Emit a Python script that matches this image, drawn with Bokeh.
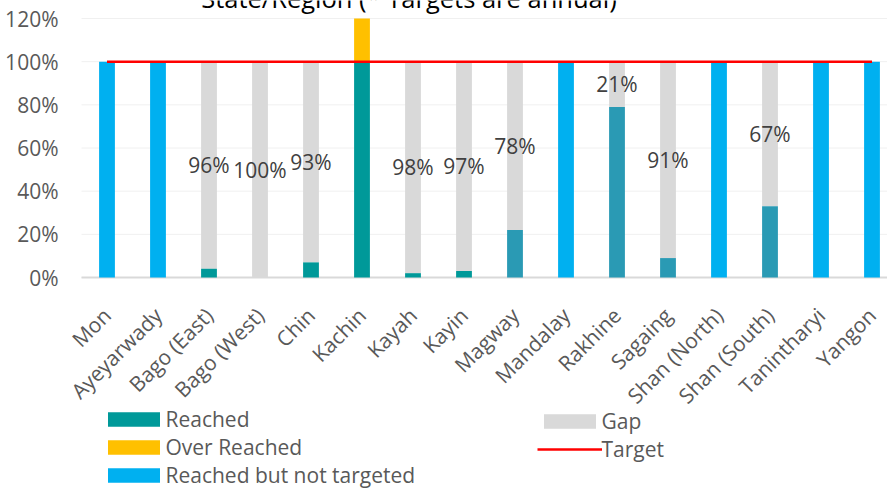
import math
from bokeh.plotting import figure
from bokeh.models import ColumnDataSource, Legend, LegendItem, Range1d
from bokeh.core.properties import value
from bokeh.embed import file_html
from bokeh.resources import INLINE

# ---------------- data ----------------
categories = ["Mon", "Ayeyarwady", "Bago (East)", "Bago (West)", "Chin", "Kachin",
              "Kayah", "Kayin", "Magway", "Mandalay", "Rakhine", "Sagaing",
              "Shan (North)", "Shan (South)", "Tanintharyi", "Yangon"]
reached = [0, 0, 4, 0, 7, 100, 2, 3, 22, 0, 79, 9, 0, 33, 0, 0]
over_reached = [0, 0, 0, 0, 0, 20, 0, 0, 0, 0, 0, 0, 0, 0, 0, 0]
reached_not_targeted = [100, 100, 0, 0, 0, 0, 0, 0, 0, 100, 0, 0, 100, 0, 100, 100]
gap = [0, 0, 96, 100, 93, 0, 98, 97, 78, 0, 21, 91, 0, 67, 0, 0]
target = [100, 100, 100, 100, 100, 100, 100, 100, 100, 100, 100, 100, 100, 100, 100, 100]
y_ticks = [0, 20, 40, 60, 80, 100, 120]
y_tick_labels = ["0%", "20%", "40%", "60%", "80%", "100%", "120%"]
title_text = "State/Region (* Targets are annual)"

# ---------------- style ----------------
FONT = "Open Sans"
FS = "21px"
C_REACHED = "#009999"
C_REACHED_2 = "#2A9AB4"
C_OVER = "#FFC000"
C_GAP = "#D9D9D9"
C_NT = "#00B0F0"
C_TARGET = "#FF0000"
reached_shade = [C_REACHED] * 8 + [C_REACHED_2] * 8
BAR_W = 0.31
W, H = 887, 488
PX_X = 51.0                       # px per category
PLOT_LEFT_PX = 81                 # where the bar area starts
PX_Y = 259 / 120.0                # px per percent
X_MIN = -0.5 - PLOT_LEFT_PX / PX_X
X_MAX = X_MIN + W / PX_X
Y_MAX = 120 + 18 / PX_Y
Y_MIN = Y_MAX - H / PX_Y
AREA_L = -0.5                     # left edge of the bar area (data units)

xs = list(range(len(categories)))

src = ColumnDataSource(dict(
    x=xs,
    reached=reached,
    reached_color=reached_shade,
    over_bottom=reached,
    over_top=[r + o for r, o in zip(reached, over_reached)],
    gap_bottom=reached,
    gap_top=[r + g for r, g in zip(reached, gap)],
    nt=reached_not_targeted,
))

p = figure(width=W, height=H, output_backend="svg", toolbar_location=None,
           x_range=Range1d(X_MIN, X_MAX), y_range=Range1d(Y_MIN, Y_MAX),
           min_border=0, x_axis_type=None, y_axis_type=None)
p.outline_line_color = None
p.background_fill_color = "white"
p.border_fill_color = "white"
p.grid.visible = False

# gridlines and axis line (only over the bar area)
p.segment(x0=[AREA_L] * len(y_ticks), x1=[X_MAX] * len(y_ticks), y0=y_ticks, y1=y_ticks,
          line_color="#F0F0F0", line_width=1)
p.segment(x0=[AREA_L], x1=[X_MAX], y0=[0], y1=[0], line_color="#D9D9D9", line_width=2)

r_gap = p.vbar(x="x", bottom="gap_bottom", top="gap_top", width=BAR_W, source=src,
               fill_color=C_GAP, line_color=None)
r_reached = p.vbar(x="x", bottom=0, top="reached", width=BAR_W, source=src,
                   fill_color="reached_color", line_color=None)
r_over = p.vbar(x="x", bottom="over_bottom", top="over_top", width=BAR_W, source=src,
                fill_color=C_OVER, line_color=None)
r_nt = p.vbar(x="x", bottom=0, top="nt", width=BAR_W, source=src,
              fill_color=C_NT, line_color=None)
r_target = p.line(xs, target, line_color=C_TARGET, line_width=2.5)

# y tick labels
p.text(x=[AREA_L] * len(y_ticks), y=y_ticks, text=y_tick_labels, x_offset=-23,
       text_font=value(FONT), text_font_size=FS, text_color="#595959",
       text_align="right", text_baseline="middle")

# gap data labels
lab_x = [i for i, g in enumerate(gap) if g > 0]
lab_y = [reached[i] + gap[i] / 2 for i in lab_x]
lab_t = [f"{gap[i]}%" for i in lab_x]
p.text(x=lab_x, y=lab_y, text=lab_t, text_font=value(FONT), text_font_size=FS,
       text_color="#404040", text_align="center", text_baseline="middle")

# category labels (rotated 45 degrees, ending under each bar)
p.text(x=xs, y=[0] * len(xs), text=categories, angle=math.pi / 4,
       x_offset=0, y_offset=34, text_font=value(FONT), text_font_size=FS,
       text_color="#595959", text_align="right", text_baseline="middle")

# title (cut off at the top edge, as in the reference)
p.text(x=[5.92], y=[125.6], text=[title_text], y_offset=-8, text_font=value(FONT),
       text_font_size="25.5px", text_color="#000000", text_align="center",
       text_baseline="alphabetic")

def make_legend(items, loc):
    return Legend(items=items, location=loc, orientation="vertical",
                  label_text_font=FONT, label_text_font_size=FS,
                  label_text_color="#595959", label_height=27, glyph_height=18,
                  glyph_width=65, label_standoff=0, spacing=0, padding=0, margin=0,
                  border_line_color=None, background_fill_alpha=0)

leg1 = make_legend([
    LegendItem(label="Reached", renderers=[r_reached], index=2),
    LegendItem(label="Over Reached", renderers=[r_over]),
    LegendItem(label="Reached but not targeted", renderers=[r_nt]),
], (100.5, -1))
leg2 = make_legend([
    LegendItem(label="Gap", renderers=[r_gap]),
    LegendItem(label="Target", renderers=[r_target]),
], (536.5, 25))
p.add_layout(leg1)
p.add_layout(leg2)

open("out.html", "w").write(file_html(p, INLINE))
